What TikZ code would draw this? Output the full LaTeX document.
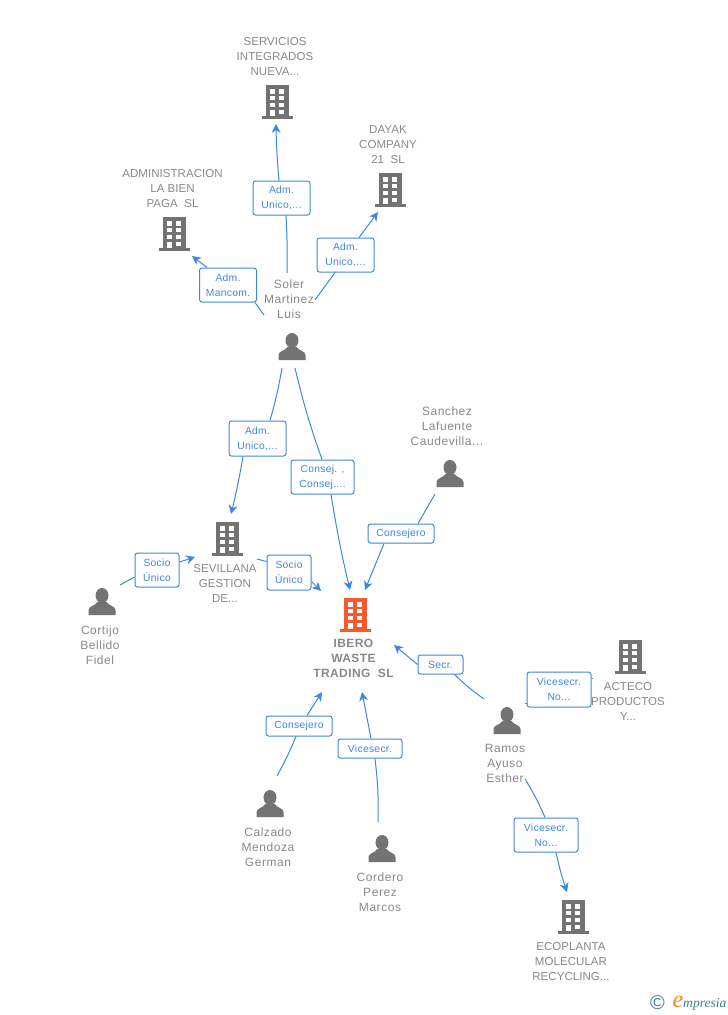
\documentclass[tikz,border=0pt]{standalone}
\usepackage{fontspec}
\setmainfont{Liberation Sans}
\newfontfamily\namefont[LetterSpace=0.5]{Liberation Sans}
\newfontfamily\personfont[LetterSpace=4.5]{Liberation Sans}
\newfontfamily\mainnamefont[LetterSpace=3.5]{Liberation Sans}
\newfontfamily\tagfont[LetterSpace=3]{Liberation Sans}
\newfontfamily\logofont{Liberation Serif}
\usetikzlibrary{arrows.meta}
\definecolor{linkblue}{HTML}{3F86E0}
\definecolor{icongray}{HTML}{737373}
\definecolor{textgray}{HTML}{888888}
\definecolor{iconorange}{HTML}{F65A2C}
\definecolor{logoteal}{HTML}{3E7F96}
\definecolor{logoorange}{HTML}{F08A24}
\tikzset{
  nametext/.style={align=center,inner sep=0pt,yshift=-0.5pt,text=textgray,font=\namefont\fontsize{11.5}{15}\selectfont},
  persontext/.style={nametext,font=\personfont\fontsize{12}{15}\selectfont},
  mainname/.style={nametext,font=\mainnamefont\bfseries\fontsize{12}{15}\selectfont},
  tag/.style={draw=linkblue,fill=white,rounded corners=2.5pt,line width=1pt,align=center,
    inner sep=0pt,text=linkblue,font=\tagfont\fontsize{10.3}{15}\selectfont},
  link/.style={draw=linkblue,line width=1pt},
  arrow/.style={link,-{Stealth[length=9pt,width=9pt]}},
  pics/building/.style={code={
    \fill[#1] (-11.5,0) rectangle (11.5,31);
    \fill[#1] (-15.5,31) rectangle (15.5,34);
    \foreach \r in {4,10.5,17.5}{
      \fill[white] (-7,\r) rectangle (-2,\r+4.5);
      \fill[white] (2,\r) rectangle (7,\r+4.5);
    }
    \fill[white] (-7,24.5) rectangle (-2,31);
    \fill[white] (2,24.5) rectangle (7,29);
  }},
  pics/person/.style={code={
    \fill[icongray] (0,7.5) ellipse (6.5 and 7.5);
    \fill[icongray] (-13.5,27) -- (-13.5,22) .. controls (-13.5,18) and (-7,18) .. (-4.5,14)
      -- (4.5,14) .. controls (7,18) and (13.5,18) .. (13.5,22) -- (13.5,27) -- cycle;
  }}
}
\begin{document}
\begin{tikzpicture}[x=1pt,y=-1pt]
  \useasboundingbox (0,0) rectangle (728,1015);
  % icons
  \pic (servicios) at (277,85) {building=icongray};
  \pic (dayak) at (390,173) {building=icongray};
  \pic (admin) at (174,217) {building=icongray};
  \pic (sevillana) at (227,522) {building=icongray};
  \pic (ibero) at (355,598) {building=iconorange};
  \pic (acteco) at (630,640) {building=icongray};
  \pic (ecoplanta) at (573,900) {building=icongray};
  \pic (soler) at (292,333) {person};
  \pic (sanchez) at (450,460) {person};
  \pic (cortijo) at (102,588) {person};
  \pic (ramos) at (507,707) {person};
  \pic (calzado) at (270,790) {person};
  \pic (cordero) at (382,835) {person};
  % names
  \node[nametext] (nservicios) at (275,56) {SERVICIOS\\INTEGRADOS\\NUEVA...};
  \node[nametext] (ndayak) at (388,144) {DAYAK\\COMPANY\\21~~SL};
  \node[nametext] (nadmin) at (172.5,188) {ADMINISTRACION\\LA BIEN\\PAGA~~SL};
  \node[persontext] (nsoler) at (289,299) {Soler\\Martinez\\Luis};
  \node[persontext] (nsanchez) at (447,426) {Sanchez\\Lafuente\\Caudevilla...};
  \node[nametext] (nsevillana) at (225,583) {SEVILLANA\\GESTION\\DE...};
  \node[persontext] (ncortijo) at (100,645) {Cortijo\\Bellido\\Fidel};
  \node[mainname] (nibero) at (353.5,658) {IBERO\\WASTE\\TRADING~~SL};
  \node[nametext] (nacteco) at (628,701) {ACTECO\\PRODUCTOS\\Y...};
  \node[persontext] (nramos) at (505,763) {Ramos\\Ayuso\\Esther};
  \node[persontext] (ncalzado) at (268,847) {Calzado\\Mendoza\\German};
  \node[persontext] (ncordero) at (380,892) {Cordero\\Perez\\Marcos};
  \node[nametext] (necoplanta) at (571,961) {ECOPLANTA\\MOLECULAR\\RECYCLING...};
  % tags
  \node[tag,minimum width=57pt,minimum height=34pt] (t1) at (281.5,198) {Adm.\\Unico,...};
  \node[tag,minimum width=57pt,minimum height=34pt] (t2) at (345.5,255) {Adm.\\Unico,...};
  \node[tag,minimum width=57pt,minimum height=34pt] (t3) at (228,285) {Adm.\\Mancom.};
  \node[tag,minimum width=57pt,minimum height=35pt] (t4) at (257.5,438.5) {Adm.\\Unico,...};
  \node[tag,minimum width=63pt,minimum height=34pt] (t5) at (322.5,477) {Consej. ,\\Consej....};
  \node[tag,minimum width=66pt,minimum height=19pt] (t6) at (401,533.5) {Consejero};
  \node[tag,minimum width=44pt,minimum height=34pt] (t7) at (157,570) {Socio\\Único};
  \node[tag,minimum width=44pt,minimum height=35pt] (t8) at (289,572.5) {Socio\\Único};
  \node[tag,minimum width=45pt,minimum height=19pt] (t9) at (440.5,664.5) {Secr.};
  \node[tag,minimum width=64pt,minimum height=35pt] (t10) at (559,689.5) {Vicesecr.\\No...};
  \node[tag,minimum width=66pt,minimum height=20pt] (t11) at (299,726) {Consejero};
  \node[tag,minimum width=64pt,minimum height=19pt] (t12) at (370,748.5) {Vicesecr.};
  \node[tag,minimum width=64pt,minimum height=34pt] (t13) at (546,835) {Vicesecr.\\No...};
  % free ends
  \coordinate (a1) at (287,273);
  \coordinate (b1) at (276,124);
  \coordinate (a2) at (315,300);
  \coordinate (b2) at (378,212);
  \coordinate (a3) at (264,315);
  \coordinate (b3) at (192,256);
  \coordinate (a4) at (282,368);
  \coordinate (b4) at (231,514);
  \coordinate (a5) at (295,368);
  \coordinate (b5) at (350,590);
  \coordinate (a6) at (435,494);
  \coordinate (b6) at (365,590);
  \coordinate (a7) at (120,585);
  \coordinate (b7) at (195,557);
  \coordinate (a8) at (257,559);
  \coordinate (b8) at (321,591);
  \coordinate (a9) at (484,699);
  \coordinate (b9) at (394,645);
  \coordinate (a10) at (525,703);
  \coordinate (b10) at (592.5,678);
  \coordinate (a11) at (277,776);
  \coordinate (b11) at (322,692);
  \coordinate (a12) at (378,822);
  \coordinate (b12) at (362,692);
  \coordinate (a13) at (525,779);
  \coordinate (b13) at (567,892);
  % connectors
  \draw[link] (a1) to[bend right=2] ([xshift=4.5pt]t1.south);
  \draw[arrow] ([xshift=-2.5pt]t1.north) to[bend left=2] (b1);
  \draw[link] (a2) -- ([xshift=-10.5pt]t2.south);
  \draw[arrow] ([xshift=13.5pt]t2.north) -- (b2);
  \draw[link] (a3) -- ([xshift=27pt]t3.south);
  \draw[arrow] ([xshift=-21pt]t3.north) -- (b3);
  \draw[link] (a4) to[bend left=3] ([xshift=12.5pt]t4.north);
  \draw[arrow] ([xshift=-14.5pt]t4.south) to[bend left=2] (b4);
  \draw[link] (a5) to[bend right=3] ([xshift=-0.5pt]t5.north);
  \draw[arrow] ([xshift=8.5pt]t5.south) to[bend right=2] (b5);
  \draw[link] (a6) -- ([xshift=17pt]t6.north);
  \draw[arrow] ([xshift=-17pt]t6.south) -- (b6);
  \draw[link] (a7) -- ([yshift=-7pt]t7.west);
  \draw[arrow] ([yshift=8pt]t7.east) -- (b7);
  \draw[link] (a8) -- ([yshift=11pt]t8.west);
  \draw[arrow] ([yshift=-9pt]t8.east) -- (b8);
  \draw[link] (a9) to[bend left=4] ([xshift=14pt]t9.south);
  \draw[arrow] (t9.west) -- (b9);
  \draw[link] (a10) -- ([yshift=-13.5pt]t10.west);
  \draw[link] ([yshift=11.5pt]t10.east) -- (b10);
  \draw[link] (a11) to[bend right=3] ([xshift=-3pt]t11.south);
  \draw[arrow] ([xshift=8pt]t11.north) -- (b11);
  \draw[link] (a12) to[bend right=4] ([xshift=5pt]t12.south);
  \draw[arrow] ([xshift=1pt]t12.north) -- (b12);
  \draw[link] (a13) to[bend left=4] ([xshift=-1pt]t13.north);
  \draw[arrow] ([xshift=10pt]t13.south) to[bend right=3] (b13);
  % logo
  \node[inner sep=0pt,text=logoteal,font=\fontsize{20}{20}\selectfont] (copy) at (657.5,1003) {©};
  \node[inner sep=0pt,text=logoorange,font=\logofont\itshape\fontsize{24}{24}\selectfont] (loge) at (678,1002) {e};
  \node[inner sep=0pt,anchor=west,text=logoteal,font=\logofont\itshape\fontsize{13.6}{13.6}\selectfont] (logo) at (683,1004) {mpresia};
\end{tikzpicture}
\end{document}
